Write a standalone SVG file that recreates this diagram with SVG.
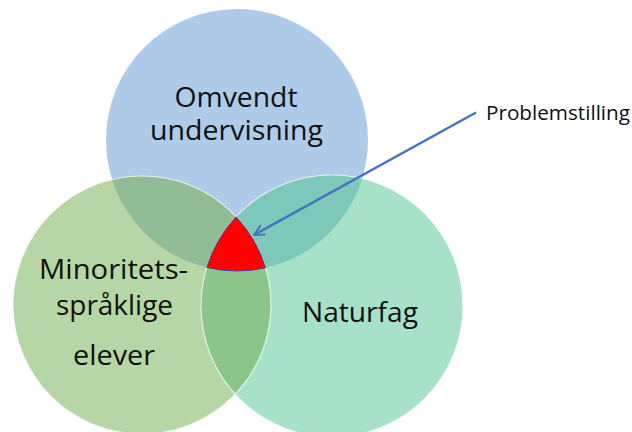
<svg xmlns="http://www.w3.org/2000/svg" width="632" height="432" viewBox="0 0 632 432">
  <style>
    .lbl { font-family: "Open Sans", "Noto Sans", "DejaVu Sans", sans-serif; font-size: 28px; fill: #111111; text-anchor: middle; }
    .small { font-family: "Open Sans", "Noto Sans", "DejaVu Sans", sans-serif; font-size: 20px; fill: #111111; }
    .edge { fill: none; stroke: #ffffff; stroke-opacity: 0.7; stroke-width: 1.2; }
  </style>
  <defs>
    <clipPath id="clipB"><circle cx="237" cy="140" r="131"/></clipPath>
    <clipPath id="clipG"><circle cx="142" cy="305" r="129"/></clipPath>
    <marker id="arrow" viewBox="0 0 12 12" refX="11" refY="6" markerWidth="12" markerHeight="12" markerUnits="userSpaceOnUse" orient="auto">
      <path d="M1,1 L11,6 L1,11" fill="none" stroke="#4472C4" stroke-width="2" stroke-linecap="round" stroke-linejoin="round"/>
    </marker>
  </defs>
  <rect width="632" height="432" fill="#ffffff"/>

  <g id="circle-omvendt">
    <circle cx="237" cy="140" r="131" fill="#AECCE9"/>
  </g>
  <g id="circle-minoritet">
    <circle cx="142" cy="305" r="129" fill="#B6D6A5"/>
  </g>
  <g id="circle-naturfag">
    <circle cx="332" cy="306" r="131" fill="#A7E1C7"/>
  </g>
  <g id="overlaps">
    <circle cx="142" cy="305" r="129" fill="#90BC96" clip-path="url(#clipB)"/>
    <circle cx="332" cy="306" r="131" fill="#7EC8BA" clip-path="url(#clipB)"/>
    <circle cx="332" cy="306" r="131" fill="#8CC58A" clip-path="url(#clipG)"/>
    <circle cx="142" cy="305" r="129" class="edge"/>
    <circle cx="332" cy="306" r="131" class="edge"/>
  </g>
  <g id="problemstilling-area">
    <path d="M236.1,216.8 A131,131 0 0 0 206.8,267.5 A131,131 0 0 0 265.55,267.85 A129,129 0 0 0 236.1,216.8 Z" fill="#FF0000" stroke="#4B3FA0" stroke-width="1"/>
  </g>

  <g id="labels">
    <text class="lbl" x="236" y="107" textLength="123" lengthAdjust="spacingAndGlyphs">Omvendt</text>
    <text class="lbl" x="236.5" y="140" textLength="173" lengthAdjust="spacingAndGlyphs">undervisning</text>
    <text class="lbl" x="113.5" y="279" textLength="149" lengthAdjust="spacingAndGlyphs">Minoritets-</text>
    <text class="lbl" x="114.5" y="315" textLength="117" lengthAdjust="spacingAndGlyphs">språklige</text>
    <text class="lbl" x="114" y="365" textLength="82" lengthAdjust="spacingAndGlyphs">elever</text>
    <text class="lbl" x="360" y="322" textLength="116" lengthAdjust="spacingAndGlyphs">Naturfag</text>
  </g>

  <g id="connectors">
    <line x1="476" y1="112.5" x2="254" y2="235" stroke="#4472C4" stroke-width="2.5" marker-end="url(#arrow)"/>
  </g>
  <g id="label-problemstilling">
    <text class="small" x="486" y="120" textLength="144" lengthAdjust="spacingAndGlyphs">Problemstilling</text>
  </g>
</svg>
